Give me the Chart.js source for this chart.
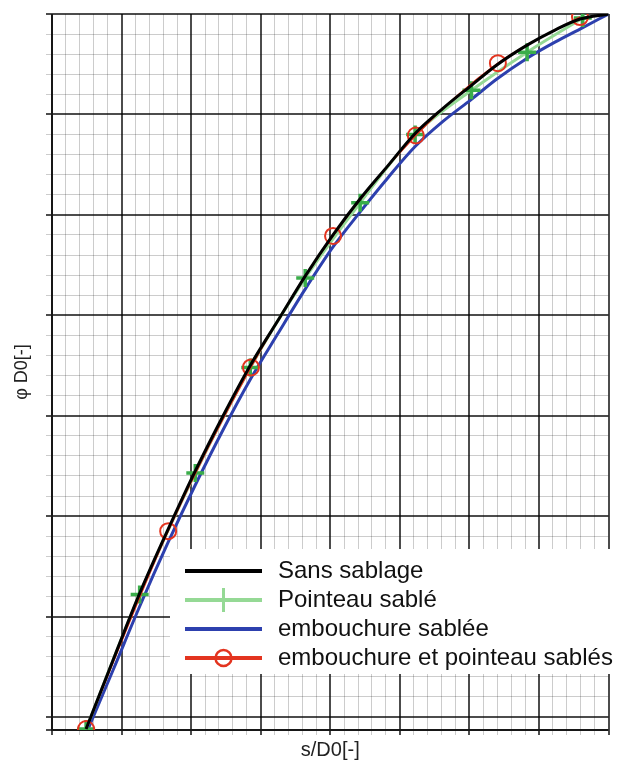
<!DOCTYPE html>
<html>
<head>
<meta charset="utf-8">
<title>phi D0 vs s/D0</title>
<script src="https://cdn.jsdelivr.net/npm/chart.js@4.4.0/dist/chart.umd.min.js"></script>
<style>
  html, body { margin: 0; padding: 0; background: #fff; }
  #chart { display: block; }
</style>
</head>
<body>
<canvas id="chart" width="621" height="769"></canvas>
<script>
  'use strict';

  // Values, in grid units (1 unit = one major square).
  const sansX = [0.49, 0.88, 1.26, 1.67, 2.06, 2.46, 2.85, 3.25, 3.64, 4.04, 4.43, 4.83, 5.22, 5.62, 6.03, 6.39, 6.83, 7.23, 7.59, 8.0];
  const sansY = [-0.12, 0.57, 1.23, 1.87, 2.45, 3.0, 3.5, 3.95, 4.39, 4.80, 5.16, 5.49, 5.81, 6.06, 6.29, 6.49, 6.69, 6.84, 6.95, 7.0];

  const pointeauX = [0.49, 1.26, 2.06, 2.85, 3.64, 4.43, 5.22, 6.03, 6.83, 7.63];
  const pointeauY = [-0.12, 1.22, 2.43, 3.48, 4.37, 5.12, 5.80, 6.24, 6.62, 6.96];

  const embouchureX = [0.52, 0.88, 1.26, 1.67, 2.06, 2.46, 2.85, 3.25, 3.64, 4.04, 4.43, 4.83, 5.22, 5.62, 6.03, 6.39, 6.83, 7.23, 7.59, 8.0];
  const embouchureY = [-0.12, 0.47, 1.10, 1.74, 2.31, 2.86, 3.36, 3.82, 4.26, 4.68, 5.03, 5.37, 5.68, 5.93, 6.15, 6.35, 6.56, 6.72, 6.85, 7.0];

  const lesDeuxX = [0.49, 1.67, 2.86, 4.04, 5.23, 6.41, 7.59];
  const lesDeuxY = [-0.12, 1.85, 3.48, 4.79, 5.79, 6.51, 6.97];

  const seriesNames = ['Sans sablage', 'Pointeau sablé', 'embouchure sablée', 'embouchure et pointeau sablés'];

  // Grid: 8 x 7 major squares, 5 minor lines per square, tick labels not shown
  const xGrid = [];
  for (let i = 0; i <= 40; i++) xGrid.push(i / 5);
  const yGrid = [-0.13];
  for (let i = 0; i <= 35; i++) yGrid.push(i / 5);

  const FONT = "'Liberation Sans', Arial, Helvetica, sans-serif";

  const toPoints = (xs, ys) => xs.map((x, i) => ({ x: x, y: ys[i] }));
  const isMajor = (v) => Math.abs(v - Math.round(v)) < 1e-6 || v < 0;

  const gridColor = (ctx) => (ctx.tick && isMajor(ctx.tick.value)) ? 'rgba(0,0,0,0.7)' : 'rgba(0,0,0,0.2)';
  const gridWidth = (ctx) => (ctx.tick && isMajor(ctx.tick.value)) ? 2 : 1;
  const tickColor = (ctx) => (ctx.tick && isMajor(ctx.tick.value)) ? 'rgba(0,0,0,0.7)' : 'rgba(0,0,0,0.2)';

  /**
   * Legend drawn inside the plot, bottom right, on a white box.
   */
  const insideLegend = {
    id: 'insideLegend',
    afterDraw(chart, args, opts) {
      const ctx = chart.ctx;
      const box = opts.box;
      ctx.save();
      ctx.fillStyle = '#fff';
      ctx.fillRect(box.left, box.top, box.right - box.left, box.bottom - box.top);

      chart.data.datasets.forEach((ds, i) => {
        const y = box.top + 22 + i * 29;
        const x0 = box.left + 15;
        const x1 = box.left + 92;
        const xm = (x0 + x1) / 2;

        ctx.strokeStyle = ds.borderColor;
        ctx.lineWidth = 4;
        ctx.beginPath();
        ctx.moveTo(x0, y);
        ctx.lineTo(x1, y);
        ctx.stroke();

        if (ds.pointStyle === 'cross') {
          ctx.strokeStyle = ds.borderColor;
          ctx.lineWidth = 3;
          ctx.beginPath();
          ctx.moveTo(xm, y - 12);
          ctx.lineTo(xm, y + 12);
          ctx.stroke();
        } else if (ds.pointStyle === 'circle') {
          ctx.strokeStyle = ds.pointBorderColor;
          ctx.lineWidth = 2.5;
          ctx.beginPath();
          ctx.arc(xm, y, 8, 0, Math.PI * 2);
          ctx.stroke();
        }

        ctx.fillStyle = '#111';
        ctx.font = '24px ' + FONT;
        ctx.textBaseline = 'middle';
        ctx.textAlign = 'left';
        ctx.fillText(ds.label, box.left + 108, y);
      });
      ctx.restore();
    }
  };

  new Chart(document.getElementById('chart'), {
    type: 'line',
    data: {
      datasets: [
        {
          label: seriesNames[0],
          data: toPoints(sansX, sansY),
          borderColor: '#000',
          borderWidth: 3,
          pointRadius: 0,
          cubicInterpolationMode: 'monotone',
          order: 0
        },
        {
          label: seriesNames[1],
          data: toPoints(pointeauX, pointeauY),
          borderColor: '#95d995',
          borderWidth: 3,
          pointStyle: 'cross',
          pointRadius: 9,
          pointBorderColor: '#3aad4a',
          pointBorderWidth: 3.5,
          cubicInterpolationMode: 'monotone',
          order: 2
        },
        {
          label: seriesNames[2],
          data: toPoints(embouchureX, embouchureY),
          borderColor: '#2d40ae',
          borderWidth: 3,
          pointRadius: 0,
          cubicInterpolationMode: 'monotone',
          order: 3
        },
        {
          label: seriesNames[3],
          data: toPoints(lesDeuxX, lesDeuxY),
          borderColor: '#e3341f',
          borderWidth: 1.5,
          pointStyle: 'circle',
          pointRadius: 8,
          pointBorderColor: '#e3341f',
          pointBackgroundColor: 'rgba(0,0,0,0)',
          pointBorderWidth: 2,
          cubicInterpolationMode: 'monotone',
          order: 1
        }
      ]
    },
    options: {
      responsive: false,
      animation: false,
      layout: { padding: { left: 0, top: 14, right: 12, bottom: 0 } },
      plugins: {
        legend: { display: false },
        tooltip: { enabled: false },
        insideLegend: { box: { left: 170, top: 549, right: 610, bottom: 674 } }
      },
      scales: {
        x: {
          type: 'linear',
          min: 0,
          max: 8,
          afterBuildTicks: (scale) => { scale.ticks = xGrid.map((v) => ({ value: v })); },
          afterFit: (scale) => { scale.height = 39; },
          ticks: { display: false },
          grid: { color: gridColor, lineWidth: gridWidth, tickColor: tickColor, tickLength: 5 },
          border: { color: 'rgba(0,0,0,0.7)', width: 2 },
          title: {
            display: true,
            text: 's/D0[-]',
            color: '#222',
            font: { family: FONT, size: 20 },
            padding: { top: 0, bottom: 7 }
          }
        },
        y: {
          type: 'linear',
          min: -0.13,
          max: 7,
          afterBuildTicks: (scale) => { scale.ticks = yGrid.map((v) => ({ value: v })); },
          afterFit: (scale) => { scale.width = 52; },
          ticks: { display: false },
          grid: { color: gridColor, lineWidth: gridWidth, tickColor: tickColor, tickLength: 6 },
          border: { color: 'rgba(0,0,0,0.7)', width: 2 },
          title: {
            display: true,
            text: 'φ D0[-]',
            color: '#222',
            font: { family: FONT, size: 18 },
            padding: { top: 11, bottom: 0 }
          }
        }
      }
    },
    plugins: [insideLegend]
  });
</script>
</body>
</html>
